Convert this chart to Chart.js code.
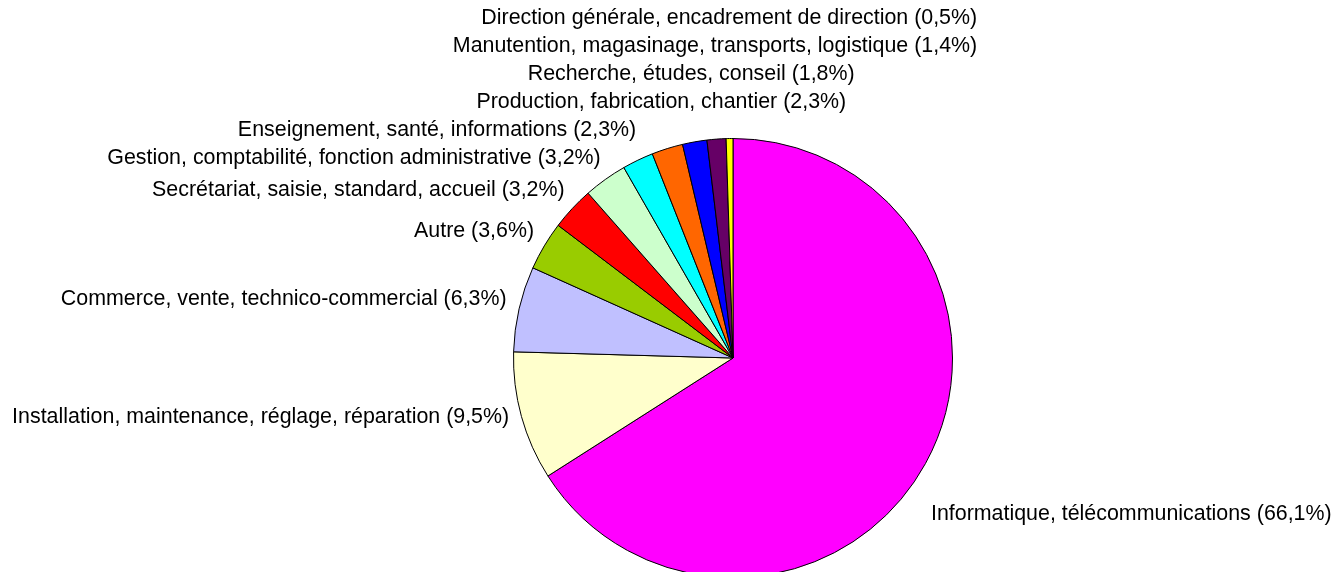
<!DOCTYPE html>
<html>
<head>
<meta charset="utf-8">
<script src="https://cdn.jsdelivr.net/npm/chart.js@4/dist/chart.umd.min.js"></script>
<style>
html,body{margin:0;padding:0;background:#fff;overflow:hidden;}
#wrap{width:1332px;height:600px;}
</style>
</head>
<body>
<div id="wrap"><canvas id="c" width="1332" height="600"></canvas></div>
<script>
const categories = [
  "Informatique, télécommunications",
  "Installation, maintenance, réglage, réparation",
  "Commerce, vente, technico-commercial",
  "Autre",
  "Secrétariat, saisie, standard, accueil",
  "Gestion, comptabilité, fonction administrative",
  "Enseignement, santé, informations",
  "Production, fabrication, chantier",
  "Recherche, études, conseil",
  "Manutention, magasinage, transports, logistique",
  "Direction générale, encadrement de direction"
];
const percentages = [66.1, 9.5, 6.3, 3.6, 3.2, 3.2, 2.3, 2.3, 1.8, 1.4, 0.5];
const percentLabels = ["66,1%", "9,5%", "6,3%", "3,6%", "3,2%", "3,2%", "2,3%", "2,3%", "1,8%", "1,4%", "0,5%"];
const sliceColors = ["#FF00FF", "#FFFFCC", "#C0C0FF", "#99CC00", "#FF0000", "#CCFFCC", "#00FFFF", "#FF6600", "#0000FF", "#660066", "#FFFF00"];

const FONT = '21.4px "Liberation Sans", Arial, sans-serif';

const outsideLabels = {
  id: 'outsideLabels',
  afterDatasetsDraw(chart, args, opts) {
    const ctx = chart.ctx;
    const arcs = chart.getDatasetMeta(0).data;
    const items = arcs.map((arc, i) => {
      const p = arc.getProps(['x', 'y', 'startAngle', 'endAngle', 'outerRadius'], true);
      const a = (p.startAngle + p.endAngle) / 2;
      const r = p.outerRadius + opts.distance;
      let theta = (a + Math.PI / 2) % (2 * Math.PI);
      if (theta < 0) theta += 2 * Math.PI;
      const ax = p.x + r * Math.cos(a);
      const ay = p.y + r * Math.sin(a);
      const deg = theta * 180 / Math.PI;
      let align, x, y;
      if (deg > 360 - opts.centerZone || deg < opts.centerZone) {
        align = 'center'; x = ax; y = ay + opts.leftDy;
      } else if (deg < 180) {
        align = 'left'; x = ax + opts.rightDx; y = ay + opts.rightDy;
      } else {
        align = 'right'; x = ax + opts.leftDx; y = ay + opts.leftDy;
      }
      return {i, deg, align, x, y, text: categories[i] + ' (' + percentLabels[i] + ')'};
    });
    // stack labels on the left/top half so they do not overlap
    const leftGroup = items.filter(it => it.deg >= 180 || it.deg < opts.centerZone)
      .sort((p, q) => ((p.deg + 180) % 360) - ((q.deg + 180) % 360));
    let prevY = Infinity;
    leftGroup.forEach(it => {
      it.y = Math.min(it.y, prevY - opts.gap);
      prevY = it.y;
    });
    ctx.save();
    ctx.font = FONT;
    ctx.fillStyle = '#000';
    ctx.textBaseline = 'middle';
    items.forEach(it => {
      ctx.textAlign = it.align;
      ctx.fillText(it.text, it.x, it.y);
    });
    ctx.restore();
  }
};

new Chart(document.getElementById('c'), {
  type: 'pie',
  data: {
    labels: categories,
    datasets: [{
      data: percentages,
      backgroundColor: sliceColors,
      borderColor: '#000000',
      borderWidth: 1
    }]
  },
  options: {
    responsive: false,
    animation: false,
    events: [],
    layout: { padding: { top: 138, left: 512, right: 378, bottom: 22 } },
    plugins: {
      legend: { display: false },
      tooltip: { enabled: false },
      outsideLabels: {
        distance: 20, centerZone: 20, gap: 28,
        leftDx: 7, leftDy: -5, rightDx: -12, rightDy: 41
      }
    }
  },
  plugins: [outsideLabels]
});
</script>
</body>
</html>
